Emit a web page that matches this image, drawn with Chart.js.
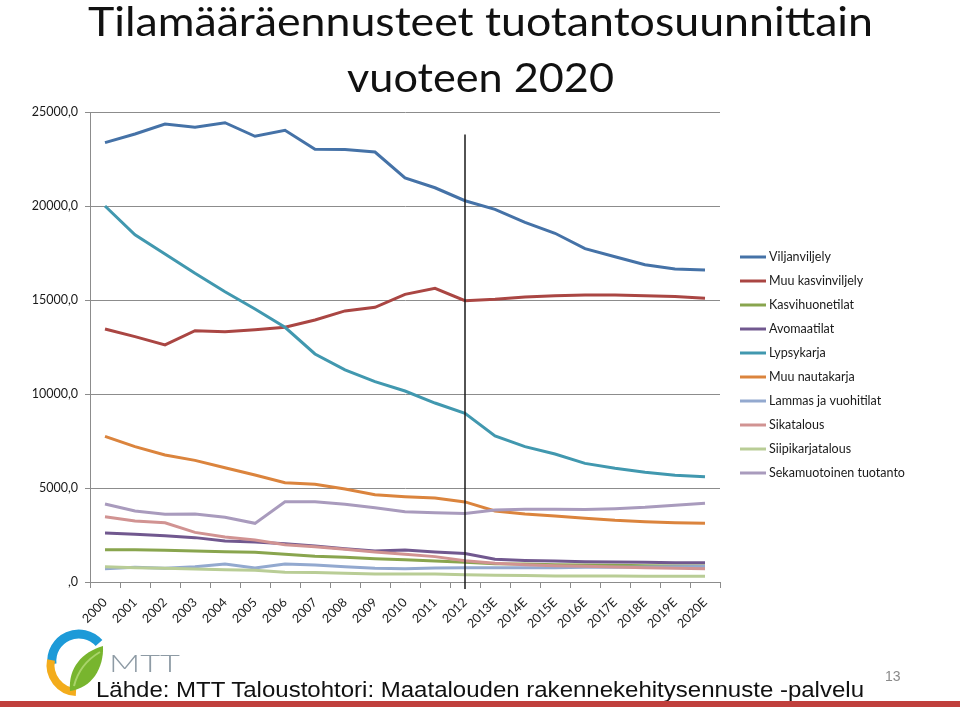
<!DOCTYPE html>
<html>
<head>
<meta charset="utf-8">
<script src="https://cdn.jsdelivr.net/npm/chart.js@4.4.0/dist/chart.umd.min.js"></script>
<style>
  html, body { margin: 0; padding: 0; background: #fff; }
  #wrap { position: relative; width: 960px; height: 707px; overflow: hidden; }
  #c { position: absolute; left: 0; top: 0; }
  #overlay { position: absolute; left: 0; top: 0; pointer-events: none; }
</style>
</head>
<body>
<div id="wrap">
  <canvas id="c" width="960" height="707"></canvas>
  <svg id="overlay" width="960" height="707" xmlns="http://www.w3.org/2000/svg">
    <text x="88" y="36" font-family="Lato, 'Open Sans', sans-serif" font-size="41" fill="#111" textLength="785" lengthAdjust="spacingAndGlyphs">Tilamääräennusteet tuotantosuunnittain</text>
    <text x="347" y="92" font-family="Lato, 'Open Sans', sans-serif" font-size="41" fill="#111" textLength="267" lengthAdjust="spacingAndGlyphs">vuoteen 2020</text>
    <!-- logo -->
    <path d="M52,664 A27,27 0 0,1 99,643" stroke="#1D9AD8" stroke-width="9" fill="none"/>
    <path d="M51,660 A27,27 0 0,0 76,692" stroke="#F3AC1C" stroke-width="8" fill="none"/>
    <path d="M70,691 C68,668 82,652 103,646 C104,668 92,688 70,691 Z" fill="#78B52E"/>
    <path d="M74,686 C78,670 88,659 100,652" stroke="#A9D46A" stroke-width="2" fill="none"/>
    <text x="109" y="672" font-family="Lato, 'Open Sans', sans-serif" font-weight="300" font-size="23" fill="#8E9BA5" textLength="71" lengthAdjust="spacingAndGlyphs">MTT</text>
    <text x="96" y="697" font-family="'Liberation Sans', Arial, sans-serif" font-size="22" fill="#111" textLength="768" lengthAdjust="spacingAndGlyphs">Lähde: MTT Taloustohtori: Maatalouden rakennekehitysennuste -palvelu</text>
    <text x="885" y="681" font-family="'Liberation Sans', Arial, sans-serif" font-size="14" fill="#8a8a8a">13</text>
    <rect x="0" y="701" width="960" height="6" fill="#C0403C"/>
  </svg>
</div>
<script>
const years = ['2000','2001','2002','2003','2004','2005','2006','2007','2008','2009','2010','2011','2012','2013E','2014E','2015E','2016E','2017E','2018E','2019E','2020E'];

const seriesNames = ['Viljanviljely','Muu kasvinviljely','Kasvihuonetilat','Avomaatilat','Lypsykarja','Muu nautakarja','Lammas ja vuohitilat','Sikatalous','Siipikarjatalous','Sekamuotoinen tuotanto'];

const viljanviljely    = [23370, 23830, 24360, 24190, 24430, 23710, 24030, 23020, 23000, 22870, 21490, 20970, 20280, 19820, 19130, 18550, 17730, 17300, 16880, 16650, 16600];
const muuKasvinviljely = [13460, 13050, 12610, 13370, 13310, 13420, 13550, 13940, 14420, 14610, 15300, 15620, 14960, 15040, 15160, 15230, 15270, 15270, 15230, 15180, 15090];
const kasvihuonetilat  = [1720, 1720, 1690, 1650, 1610, 1580, 1470, 1370, 1310, 1240, 1190, 1120, 1050, 970, 960, 920, 900, 890, 870, 850, 850];
const avomaatilat      = [2610, 2540, 2460, 2360, 2180, 2130, 2040, 1920, 1770, 1650, 1700, 1600, 1510, 1210, 1150, 1120, 1080, 1060, 1050, 1030, 1030];
const lypsykarja       = [20000, 18470, 17450, 16420, 15440, 14520, 13550, 12130, 11280, 10660, 10160, 9520, 8970, 7770, 7200, 6810, 6310, 6050, 5840, 5680, 5600];
const muuNautakarja    = [7750, 7200, 6760, 6470, 6080, 5690, 5280, 5200, 4950, 4640, 4540, 4470, 4260, 3780, 3620, 3510, 3390, 3280, 3210, 3150, 3120];
const lammasVuohi      = [710, 780, 730, 810, 960, 750, 960, 900, 810, 730, 710, 750, 760, 760, 760, 760, 780, 780, 800, 810, 820];
const sikatalous       = [3470, 3250, 3150, 2640, 2390, 2230, 1980, 1880, 1740, 1600, 1470, 1350, 1130, 1000, 920, 870, 840, 800, 760, 730, 710];
const siipikarja       = [810, 760, 730, 690, 650, 620, 520, 500, 460, 430, 430, 430, 390, 360, 340, 320, 320, 320, 300, 300, 300];
const sekamuotoinen    = [4150, 3780, 3600, 3620, 3440, 3120, 4270, 4270, 4130, 3950, 3740, 3690, 3650, 3830, 3870, 3870, 3850, 3900, 3970, 4080, 4190];

const yTicks = [0, 5000, 10000, 15000, 20000, 25000];
const forecastStartIndex = 12; // 2012 marker line

const seriesValues = [viljanviljely, muuKasvinviljely, kasvihuonetilat, avomaatilat, lypsykarja, muuNautakarja, lammasVuohi, sikatalous, siipikarja, sekamuotoinen];
const seriesColors = ['#4572A7','#AA4643','#89A54E','#71588F','#4198AF','#DB843D','#93A9CF','#D19392','#B9CD96','#A99BBD'];

const datasets = seriesNames.map((name, i) => ({
  label: name,
  data: seriesValues[i],
  borderColor: seriesColors[i],
  backgroundColor: seriesColors[i],
  borderWidth: 3,
  pointRadius: 0,
  tension: 0,
  fill: false,
  order: -i
}));

const markerLine = {
  id: 'markerLine',
  afterDatasetsDraw(chart) {
    const x = chart.scales.x.getPixelForValue(forecastStartIndex);
    const yTop = chart.scales.y.getPixelForValue(23800);
    const yBot = chart.chartArea.bottom + 7;
    const ctx = chart.ctx;
    ctx.save();
    ctx.strokeStyle = '#1a1a1a';
    ctx.lineWidth = 1.5;
    ctx.beginPath();
    ctx.moveTo(x, yTop);
    ctx.lineTo(x, yBot);
    ctx.stroke();
    ctx.restore();
  }
};

const sideLegend = {
  id: 'sideLegend',
  afterDraw(chart) {
    const ctx = chart.ctx;
    ctx.save();
    ctx.font = '12.5px Lato, "Open Sans", sans-serif';
    ctx.textBaseline = 'middle';
    ctx.fillStyle = '#1a1a1a';
    chart.data.datasets.forEach((ds, i) => {
      const y = 257 + i * 24;
      ctx.strokeStyle = ds.borderColor;
      ctx.lineWidth = 3;
      ctx.beginPath();
      ctx.moveTo(740, y);
      ctx.lineTo(766, y);
      ctx.stroke();
      ctx.fillText(ds.label, 769, y);
    });
    ctx.restore();
  }
};

new Chart(document.getElementById('c'), {
  type: 'line',
  data: { labels: years, datasets: datasets },
  plugins: [markerLine, sideLegend],
  options: {
    responsive: false,
    animation: false,
    devicePixelRatio: 1,
    layout: { padding: { left: 0, top: 112, right: 240, bottom: 0 } },
    plugins: { legend: { display: false }, tooltip: { enabled: false }, title: { display: false } },
    scales: {
      x: {
        type: 'category',
        offset: true,
        grid: { display: true, drawOnChartArea: false, drawTicks: true, tickLength: 6, offset: true, color: '#8c8c8c' },
        border: { display: true, color: '#8c8c8c', width: 1 },
        ticks: {
          autoSkip: false, minRotation: 45, maxRotation: 45, padding: 7,
          color: '#1a1a1a', font: { family: 'Lato, "Open Sans", sans-serif', size: 12.5 }
        },
        afterFit(scale) { scale.height = 125; }
      },
      y: {
        min: 0, max: 25000,
        afterBuildTicks(scale) { scale.ticks = yTicks.map(v => ({ value: v })); },
        grid: { color: '#8c8c8c', lineWidth: 1, drawTicks: true, tickLength: 5 },
        border: { display: true, color: '#8c8c8c', width: 1 },
        ticks: {
          padding: 7, color: '#1a1a1a',
          font: { family: 'Lato, "Open Sans", sans-serif', size: 12.5 },
          callback: (v) => (v === 0 ? ',0' : v + ',0')
        },
        afterFit(scale) { scale.width = 90; }
      }
    }
  }
});
</script>
</body>
</html>
